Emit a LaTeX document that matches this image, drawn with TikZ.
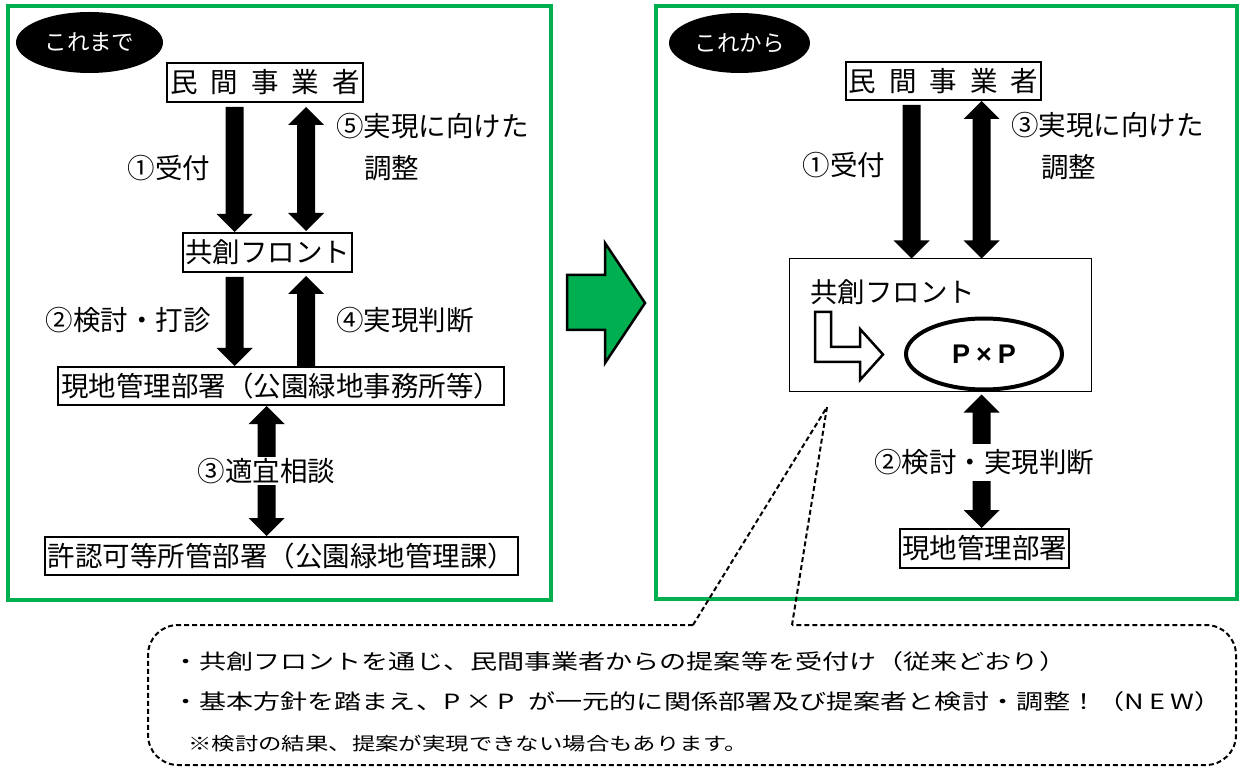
\documentclass[tikz,border=0pt]{standalone}
\usepackage{fontspec}
\usepackage{graphicx}
\setmainfont{Noto Sans CJK JP}
\newfontfamily\latinbold{Liberation Sans}
\usetikzlibrary{shapes.geometric,calc}
\definecolor{frameGreen}{RGB}{0,176,80}
\newcommand{\labfont}{\fontsize{27.5}{33}\selectfont}
\newcommand{\downarr}[2]{\fill[blockarrow] ($(#1)+(-9,0)$) -- ($(#2)+(-9,-18)$) -- ($(#2)+(-18,-18)$) -- (#2) -- ($(#2)+(18,-18)$) -- ($(#2)+(9,-18)$) -- ($(#1)+(9,0)$) -- cycle;}
\newcommand{\uparr}[2]{\fill[blockarrow] (#1) -- ($(#1)+(18,18)$) -- ($(#1)+(9,18)$) -- ($(#2)+(9,0)$) -- ($(#2)+(-9,0)$) -- ($(#1)+(-9,18)$) -- ($(#1)+(-18,18)$) -- cycle;}
\newcommand{\dblarr}[2]{\fill[blockarrow] (#1) -- ($(#1)+(18,18)$) -- ($(#1)+(9,18)$) -- ($(#2)+(9,-18)$) -- ($(#2)+(18,-18)$) -- (#2) -- ($(#2)+(-18,-18)$) -- ($(#2)+(-9,-18)$) -- ($(#1)+(-9,18)$) -- ($(#1)+(-18,18)$) -- cycle;}
\begin{document}
\begin{tikzpicture}[x=1pt,y=-1pt,
  frame/.style={draw=frameGreen, line width=3.5pt},
  box/.style={draw, line width=2pt, inner sep=0pt, font=\labfont},
  lab/.style={inner sep=0pt, font=\labfont},
  oval/.style={ellipse, fill=black, text=white, inner sep=0pt, font=\fontsize{22.5}{26}\selectfont},
  blockarrow/.style={fill=black},
  callout/.style={draw, line width=2pt, dash pattern=on 5pt off 3pt},
  ctext/.style={inner sep=0pt, font=\fontsize{21}{25}\selectfont},
  ctextsmall/.style={inner sep=0pt, font=\fontsize{18}{22}\selectfont}]
\useasboundingbox (0,0) rectangle (1240,767);
\fill[white] (0,0) rectangle (1240,767);

% frames
\draw[frame] (8,6) rectangle (551,600);
\draw[frame] (656,6) rectangle (1237,599);

% ---- left panel ----
\node[oval, minimum width=147, minimum height=61] (tagL) at (89.5,42.5) {これまで};
\node[box, minimum width=196, minimum height=39] (min1) at (265,82.5) {民\hspace{13pt}間\hspace{13pt}事\hspace{13pt}業\hspace{13pt}者};
\node[box, minimum width=169, minimum height=39] (kyo1) at (267.5,252.5) {共創フロント};
\node[box, minimum width=446, minimum height=38] (gen1) at (281,386) {現地管理部署（公園緑地事務所等）};
\node[box, minimum width=473, minimum height=38] (kyoka) at (281.5,556) {許認可等所管部署（公園緑地管理課）};

\coordinate (xA) at (234.5,0);
\coordinate (xB) at (306,0);
\coordinate (xC) at (266.5,0);
\path (min1.south -| xA) ++(0,4) coordinate (a1s);
\path (kyo1.north -| xA) coordinate (a1e);
\path (min1.south -| xB) ++(0,4) coordinate (a5s);
\path (kyo1.north -| xB) ++(0,-1) coordinate (a5e);
\path (kyo1.south -| xA) ++(0,4) coordinate (a2s);
\path (gen1.north -| xA) coordinate (a2e);
\path (kyo1.south -| xB) ++(0,3) coordinate (a4s);
\path (gen1.north -| xB) coordinate (a4e);
\path (gen1.south -| xC) coordinate (a3s);
\path (kyoka.north -| xC) coordinate (a3e);

\downarr{a1s}{a1e}
\dblarr{a5s}{a5e}
\downarr{a2s}{a2e}
\uparr{a4s}{a4e}
\dblarr{a3s}{a3e}

\node[lab] (l1) at (169,168) {①受付};
\node[lab, anchor=west] (l5a) at (336,126) {⑤実現に向けた};
\node[lab, anchor=west] (l5b) at (364,168) {調整};
\node[lab] (l2) at (128,320) {②検討・打診};
\node[lab, anchor=west] (l4) at (336,320) {④実現判断};
\node[lab, fill=white, inner ysep=1pt, inner xsep=1pt] (l3) at (266.5,471) {③適宜相談};

% ---- big green arrow ----
\draw[fill=frameGreen, line width=2.5pt, line join=miter] (567,275) -- (605,275) -- (605,243) -- (645,303) -- (605,363) -- (605,330) -- (567,330) -- cycle;

% ---- right panel ----
\node[oval, minimum width=141, minimum height=60] (tagR) at (739.5,43) {これから};
\node[box, minimum width=195, minimum height=38] (min2) at (943.5,81) {民\hspace{13pt}間\hspace{13pt}事\hspace{13pt}業\hspace{13pt}者};
\node[draw, line width=1pt, minimum width=302, minimum height=132, inner sep=0pt] (kyo2) at (940.3,325) {};
\node[lab, anchor=west] (rk) at (810,292) {共創フロント};
\draw[line width=2.5pt, fill=white, line join=miter] (815,312) -- (831,312) -- (831,347) -- (860,347) -- (860,329) -- (883,354.5) -- (860,380) -- (860,362) -- (815,362) -- cycle;
\node[ellipse, draw, line width=4pt, fill=white, minimum width=156, minimum height=71, inner sep=0pt, font=\latinbold\bfseries\fontsize{27}{30}\selectfont] (pxp) at (984,354) {P\hspace{6pt}×\hspace{6pt}P};
\node[box, minimum width=169, minimum height=39] (gen2) at (984.5,548.5) {現地管理部署};

\coordinate (xD) at (911.5,0);
\coordinate (xE) at (981.5,0);
\path (min2.south -| xD) ++(0,4) coordinate (b1s);
\path (kyo2.north -| xD) coordinate (b1e);
\path (min2.south -| xE) coordinate (b3s);
\path (kyo2.north -| xE) coordinate (b3e);
\path (pxp.south -| xE) ++(0,3) coordinate (b2s);
\path (gen2.north -| xE) coordinate (b2e);

\downarr{b1s}{b1e}
\dblarr{b3s}{b3e}
\dblarr{b2s}{b2e}

\node[lab] (r1) at (844,165) {①受付};
\node[lab, anchor=west] (r3a) at (1011,125) {③実現に向けた};
\node[lab, anchor=west] (r3b) at (1041,167) {調整};
\node[lab, fill=white, minimum height=37, inner xsep=1pt] (r2) at (984,462) {②検討・実現判断};

% ---- callout ----
\coordinate (apex) at (827,407);
\coordinate (cp1) at (693,625);
\coordinate (cp2) at (792,625);
\draw[callout, rounded corners=30pt] (cp1) -- (148,625) -- (148,765) -- (1236,765) -- (1236,625) -- (cp2);
\draw[callout] (cp1) -- (apex) -- (cp2);

\node[ctext, anchor=west] (t1) at (172,662) {\scalebox{1.29}[1]{・共創フロントを通じ、民間事業者からの提案等を受付け（従来どおり）}};
\node[ctext, anchor=west] (t2) at (172,702) {\scalebox{1.29}[1]{・基本方針を踏まえ、P\hspace{4pt}×\hspace{4pt}P\hspace{6pt} が一元的に関係部署及び提案者と検討・調整！（N\hspace{4pt}E\hspace{4pt}W）}};
\node[ctextsmall, anchor=west] (t3) at (188,744) {\scalebox{1.3}[1]{※検討の結果、提案が実現できない場合もあります。}};
\end{tikzpicture}
\end{document}
